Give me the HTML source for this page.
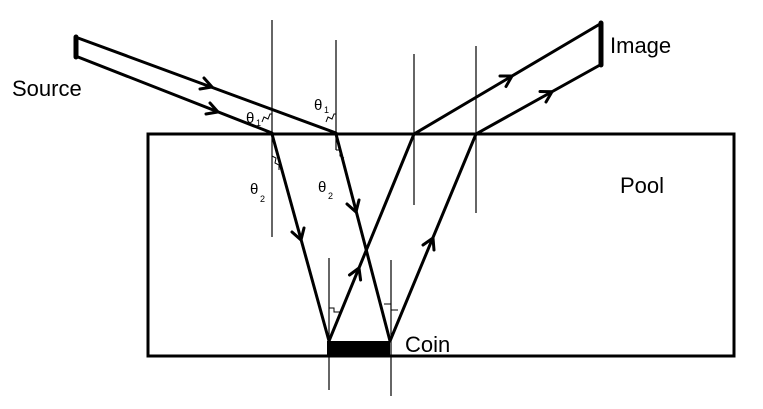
<!DOCTYPE html>
<html><head><style>body{margin:0;background:#fff}svg{display:block}text{font-family:"Liberation Sans",sans-serif}</style></head>
<body>
<svg width="763" height="409" viewBox="0 0 763 409" xmlns="http://www.w3.org/2000/svg">
<g stroke="#000" stroke-width="1.2">
<line x1="272" y1="20" x2="272" y2="237"/>
<line x1="336" y1="40" x2="336" y2="150"/>
<line x1="414" y1="54" x2="414" y2="205"/>
<line x1="476" y1="46" x2="476" y2="213"/>
<line x1="329" y1="258" x2="329" y2="390"/>
<line x1="391" y1="260" x2="391" y2="396"/>
</g>
<rect x="148" y="134" width="586" height="222" fill="none" stroke="#000" stroke-width="3"/>
<rect x="327" y="341" width="63" height="15" fill="#000"/>
<g stroke="#000" stroke-width="3" fill="none" stroke-linecap="round" stroke-linejoin="miter">
<line x1="76" y1="37" x2="76" y2="57" stroke-width="5"/>
<line x1="78" y1="38" x2="336" y2="133"/>
<line x1="78" y1="57" x2="272" y2="133"/>
<line x1="272" y1="134" x2="329" y2="341"/>
<line x1="336" y1="134" x2="390" y2="341"/>
<line x1="329" y1="341" x2="414" y2="134"/>
<line x1="390" y1="341" x2="476" y2="134"/>
<line x1="414" y1="134" x2="600" y2="24"/>
<line x1="476" y1="134" x2="600" y2="65"/>
<line x1="601" y1="23" x2="601" y2="65" stroke-width="5"/>
<!-- arrowheads -->
<polyline points="204,78 212,87 200,89"/>
<polyline points="210,103 218,112 206,114"/>
<polyline points="304,228 301,240 292,232"/>
<polyline points="359,200 356,212 347,204"/>
<polyline points="349.5,275 359,268 360.6,280"/>
<polyline points="423,245 433,238 434,250"/>
<polyline points="500,76 512,76 506,86.5"/>
<polyline points="540,91.5 552,91.7 546,102"/>
</g>
<g stroke="#000" stroke-width="1" fill="none">
<polyline points="262,122 264,117 268,119 270,114 272,114"/>
<polyline points="326,122 328,117 332,119 334,114 336,114"/>
<polyline points="272,156 276,158 275,163 279,165 279,170"/>
<polyline points="336,150 340,150 340,156 344,158"/>
<polyline points="329,308 334,308 334,312 340,312"/>
<polyline points="384,304 391,304 391,310 398,310"/>
</g>
<g font-size="15" font-family="Liberation Serif,serif">
<text x="246" y="123">θ</text><text x="256" y="126" font-size="9">1</text>
<text x="314" y="110">θ</text><text x="324" y="113" font-size="9">1</text>
<text x="250" y="194">θ</text><text x="260" y="202" font-size="9">2</text>
<text x="318" y="192">θ</text><text x="328" y="199" font-size="9">2</text>
</g>
<text x="12" y="96" font-size="22">Source</text>
<text x="610" y="53" font-size="22">Image</text>
<text x="620" y="193" font-size="22">Pool</text>
<text x="405" y="352" font-size="22">Coin</text>
</svg>
</body></html>
